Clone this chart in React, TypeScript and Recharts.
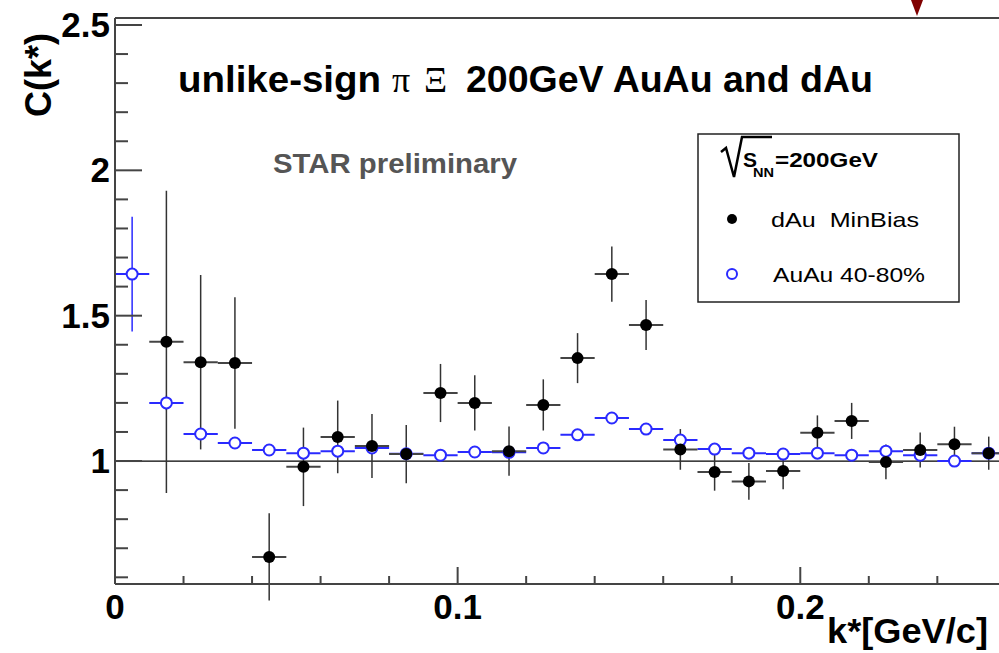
import React from 'react';
import { ScatterChart, Scatter, XAxis, YAxis, ErrorBar, ReferenceLine } from 'recharts';

// bin centres of k* [GeV/c]
const kStar = [
  0.005, 0.015, 0.025, 0.035, 0.045, 0.055, 0.065, 0.075, 0.085, 0.095, 0.105, 0.115, 0.125,
  0.135, 0.145, 0.155, 0.165, 0.175, 0.185, 0.195, 0.205, 0.215, 0.225, 0.235, 0.245, 0.255,
];
const binHalfWidth = 0.005;

// dAu MinBias, starts at the second bin
const dAuC = [
  1.41, 1.34, 1.337, 0.67, 0.98, 1.083, 1.052, 1.024, 1.234, 1.2, 1.034, 1.193, 1.354,
  1.643, 1.468, 1.04, 0.962, 0.93, 0.966, 1.097, 1.138, 0.997, 1.038, 1.058, 1.027,
];
const dAuErr = [
  0.52, 0.3, 0.226, 0.15, 0.135, 0.125, 0.11, 0.1, 0.1, 0.095, 0.085, 0.088, 0.086,
  0.095, 0.086, 0.07, 0.064, 0.063, 0.063, 0.06, 0.062, 0.06, 0.06, 0.06, 0.057,
];

// AuAu 40-80%
const auauC = [
  1.643, 1.2, 1.093, 1.062, 1.038, 1.027, 1.034, 1.045, 1.025, 1.02, 1.031, 1.03, 1.045,
  1.09, 1.148, 1.11, 1.072, 1.041, 1.027, 1.024, 1.027, 1.02, 1.034, 1.02, 1.0, 1.027,
];
const auauErr = [
  0.197, 0.025, 0.015, 0.012, 0.01, 0.01, 0.01, 0.01, 0.01, 0.01, 0.01, 0.01, 0.01,
  0.01, 0.012, 0.012, 0.012, 0.012, 0.012, 0.012, 0.012, 0.012, 0.012, 0.012, 0.012, 0.012,
];

const xTicks = [0, 0.02, 0.04, 0.06, 0.08, 0.1, 0.12, 0.14, 0.16, 0.18, 0.2, 0.22, 0.24];
const xTickLabels: Record<string, string> = { '0': '0', '0.1': '0.1', '0.2': '0.2' };
const yTicks = [
  0.6, 0.7, 0.8, 0.9, 1, 1.1, 1.2, 1.3, 1.4, 1.5, 1.6, 1.7, 1.8, 1.9, 2, 2.1, 2.2, 2.3, 2.4, 2.5,
];
const yTickLabels: Record<string, string> = { '1': '1', '1.5': '1.5', '2': '2', '2.5': '2.5' };

const xDomain = [0, 0.258];
const yDomain = [0.577, 2.524];

const dAuData = dAuC.map((c, i) => ({ k: kStar[i + 1], c, ey: dAuErr[i], ex: binHalfWidth }));
const auauData = auauC.map((c, i) => ({ k: kStar[i], c, ey: auauErr[i], ex: binHalfWidth }));

const FONT = '"Liberation Sans", Arial, Helvetica, sans-serif';
const AXIS = '#444';
const BLUE = '#2a2aff';

const key = (v: number) => String(Math.round(v * 1000) / 1000);

const XTick = (props: any) => {
  const { x, y, payload } = props;
  const label = xTickLabels[key(payload.value)];
  return (
    <g>
      <line x1={x} x2={x} y1={y} y2={y - (label ? 17 : 8)} stroke={AXIS} strokeWidth={2} />
      {label && (
        <text x={x} y={y + 35} textAnchor="middle" fontFamily={FONT} fontWeight="bold" fontSize={35} fill="#000">
          {label}
        </text>
      )}
    </g>
  );
};

const YTick = (props: any) => {
  const { x, y, payload } = props;
  const label = yTickLabels[key(payload.value)];
  return (
    <g>
      <line x1={x} x2={x + (label ? 27 : 13)} y1={y} y2={y} stroke={AXIS} strokeWidth={2} />
      {label && (
        <text x={x - 5} y={y + 12} textAnchor="end" fontFamily={FONT} fontWeight="bold" fontSize={35} fill="#000">
          {label}
        </text>
      )}
    </g>
  );
};

const DotFilled = (p: any) => <circle cx={p.cx} cy={p.cy} r={6} fill="#000" />;
const DotOpen = (p: any) => <circle cx={p.cx} cy={p.cy} r={5.5} fill="#fff" stroke={BLUE} strokeWidth={2} />;

const Overlay = () => (
  <svg width={999} height={653} style={{ position: 'absolute', left: 0, top: 0, pointerEvents: 'none' }}>
    {/* title */}
    <text x={178} y={92} fontFamily={FONT} fontWeight="bold" fontSize={36} textLength={203} lengthAdjust="spacingAndGlyphs">
      unlike-sign
    </text>
    <text x={392} y={92} fontFamily='"Liberation Serif", "DejaVu Serif", serif' fontSize={36}>
      π
    </text>
    <text x={424} y={92} fontFamily='"Liberation Serif", "DejaVu Serif", serif' fontSize={36}>
      Ξ
    </text>
    <text x={466} y={92} fontFamily={FONT} fontWeight="bold" fontSize={36} textLength={407} lengthAdjust="spacingAndGlyphs">
      200GeV AuAu and dAu
    </text>

    <text x={273} y={173} fontFamily={FONT} fontWeight="bold" fontSize={28} fill="#555" textLength={244} lengthAdjust="spacingAndGlyphs">
      STAR preliminary
    </text>

    {/* legend */}
    <rect x={698} y={134} width={261} height={168} fill="#fff" stroke="#222" strokeWidth={1.5} />
    <path d="M 721 152 L 726 148 L 734 177 L 742 137 L 772 137" fill="none" stroke="#000" strokeWidth={2.5} />
    <text x={743} y={167} fontFamily={FONT} fontWeight="bold" fontSize={21}>
      S
    </text>
    <text x={753} y={177} fontFamily={FONT} fontWeight="bold" fontSize={13} textLength={21} lengthAdjust="spacingAndGlyphs">
      NN
    </text>
    <text x={775} y={167} fontFamily={FONT} fontWeight="bold" fontSize={21} textLength={103} lengthAdjust="spacingAndGlyphs">
      =200GeV
    </text>
    <circle cx={732} cy={219} r={5} fill="#000" />
    <text x={771} y={227} fontFamily={FONT} fontSize={21} textLength={148} lengthAdjust="spacingAndGlyphs" style={{ whiteSpace: 'pre' }}>
      {'dAu  MinBias'}
    </text>
    <circle cx={732} cy={274} r={5} fill="none" stroke={BLUE} strokeWidth={2} />
    <text x={773} y={282} fontFamily={FONT} fontSize={21} textLength={152} lengthAdjust="spacingAndGlyphs">
      AuAu 40-80%
    </text>

    {/* axis titles */}
    <text
      transform="translate(51,117) rotate(-90)"
      fontFamily={FONT}
      fontWeight="bold"
      fontSize={36}
      textLength={84}
      lengthAdjust="spacingAndGlyphs"
    >
      C(k*)
    </text>
    <text x={827} y={643} fontFamily={FONT} fontWeight="bold" fontSize={35} textLength={161} lengthAdjust="spacingAndGlyphs">
      k*[GeV/c]
    </text>

    {/* marker arrow at top edge */}
    <path d="M 911 0 L 923 0 L 917 16 Z" fill="#800000" />
  </svg>
);

export default function App() {
  return (
    <div style={{ position: 'absolute', left: 0, top: 0, width: 999, height: 653, background: '#fff', overflow: 'hidden' }}>
      <ScatterChart width={999} height={653} margin={{ top: 18, right: 0, bottom: 0, left: 0 }}>
        <XAxis
          dataKey="k"
          type="number"
          domain={xDomain}
          ticks={xTicks}
          allowDataOverflow
          height={69}
          tickSize={0}
          tickMargin={0}
          tickLine={false}
          tick={<XTick />}
          axisLine={{ stroke: AXIS, strokeWidth: 2 }}
          interval={0}
        />
        <YAxis
          dataKey="c"
          type="number"
          domain={yDomain}
          ticks={yTicks}
          allowDataOverflow
          width={115}
          tickSize={0}
          tickMargin={0}
          tickLine={false}
          tick={<YTick />}
          axisLine={{ stroke: AXIS, strokeWidth: 2 }}
          interval={0}
        />
        <ReferenceLine y={yDomain[1]} stroke={AXIS} strokeWidth={2} />
        <ReferenceLine y={1} stroke="#000" strokeWidth={1.2} />
        <Scatter data={auauData} shape={<DotOpen />} isAnimationActive={false}>
          <ErrorBar dataKey="ey" direction="y" width={0} stroke={BLUE} strokeWidth={1.5} isAnimationActive={false} />
          <ErrorBar dataKey="ex" direction="x" width={0} stroke={BLUE} strokeWidth={2} isAnimationActive={false} />
        </Scatter>
        <Scatter data={dAuData} shape={<DotFilled />} isAnimationActive={false}>
          <ErrorBar dataKey="ey" direction="y" width={0} stroke="#333" strokeWidth={1.5} isAnimationActive={false} />
          <ErrorBar dataKey="ex" direction="x" width={0} stroke="#444" strokeWidth={2} isAnimationActive={false} />
        </Scatter>
      </ScatterChart>
      <Overlay />
    </div>
  );
}
